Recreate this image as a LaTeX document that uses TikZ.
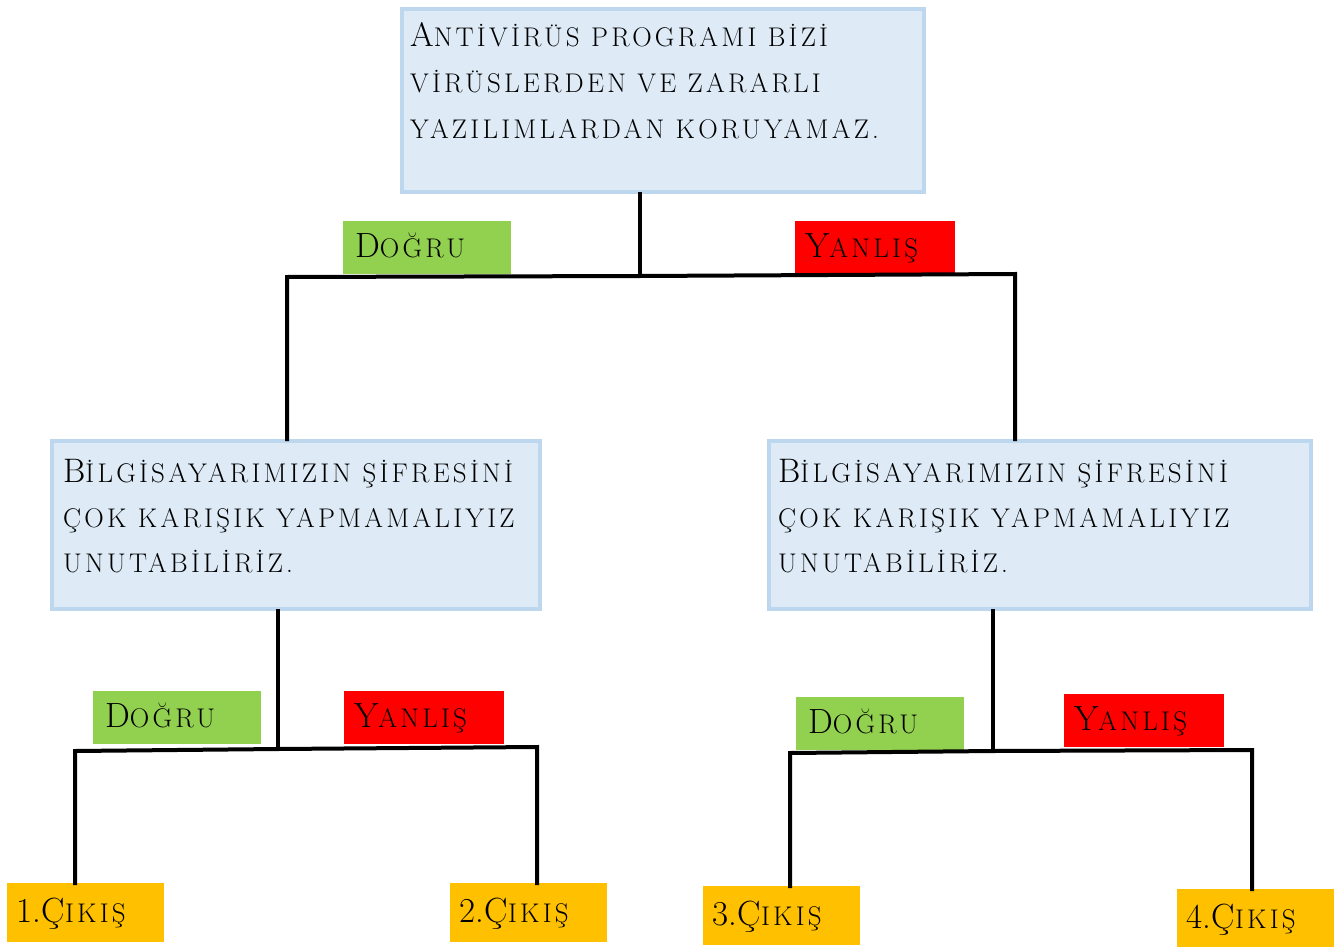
\documentclass[tikz,border=0pt]{standalone}
\usepackage{fontspec}
\setmainfont{Latin Modern Roman}[LetterSpace=12]
\definecolor{boxfill}{HTML}{DEEBF7}
\definecolor{boxline}{HTML}{BDD7EE}
\definecolor{okgreen}{HTML}{92D050}
\definecolor{nored}{HTML}{FF0000}
\definecolor{outorange}{HTML}{FFC000}
\newcommand\lc[1]{{\fontsize{27}{27}\selectfont #1}}
\newcommand\tight[1]{{\addfontfeature{LetterSpace=2}#1}}
\begin{document}
\begin{tikzpicture}[x=1pt,y=-1pt,
  qbox/.style={draw=boxline, line width=4pt, fill=boxfill, inner sep=0pt, anchor=north west},
  line/.style={font=\fontsize{34}{34}\selectfont, inner sep=0pt, anchor=base west},
  tag/.style={inner ysep=0pt, anchor=north west, align=left,
    font=\fontsize{35}{35}\selectfont, text height=19pt, text depth=0pt},
  yes/.style={tag, inner xsep=12pt, text width=144pt, fill=okgreen, minimum height=53pt},
  no/.style={tag, inner xsep=10pt, text width=140pt, fill=nored, minimum height=53pt},
  outb/.style={tag, inner xsep=9pt, text width=139pt, fill=outorange, minimum height=59pt},
  conn/.style={draw=black, line width=4pt, line cap=rect, line join=miter}]
\useasboundingbox (0,0) rectangle (1335,947);
\fill[white] (0,0) rectangle (1335,947);

% question boxes
\node[qbox, minimum width=522pt, minimum height=183pt] (q1) at (400,7) {};
\node[qbox, minimum width=488pt, minimum height=168pt] (q2) at (50,439) {};
\node[qbox, minimum width=542pt, minimum height=168pt] (q3) at (767,439) {};

\node[line] (q1a) at (410,47) {A\lc{NTİVİRÜS PROGRAMI BİZİ}};
\node[line] (q1b) at (410,93) {\lc{VİRÜSLERDEN VE ZARARLI}};
\node[line] (q1c) at (410,139) {\lc{YAZILIMLARDAN KORUYAMAZ.}};

\node[line] (q2a) at (63,482) {B\lc{İLGİSAYARIMIZIN ŞİFRESİNİ}};
\node[line] (q2b) at (63,527) {\lc{ÇOK KARIŞIK YAPMAMALIYIZ}};
\node[line] (q2c) at (63,572) {\lc{UNUTABİLİRİZ.}};

\node[line] (q3a) at (778,482) {B\lc{İLGİSAYARIMIZIN ŞİFRESİNİ}};
\node[line] (q3b) at (778,527) {\lc{ÇOK KARIŞIK YAPMAMALIYIZ}};
\node[line] (q3c) at (778,572) {\lc{UNUTABİLİRİZ.}};

% labels
\node[yes] (y1) at (343,221) {D\lc{OĞRU}};
\node[no]  (n1) at (795,221) {Y\lc{ANLIŞ}};
\node[yes] (y2) at (93,691) {D\lc{OĞRU}};
\node[no]  (n2) at (344,691) {Y\lc{ANLIŞ}};
\node[yes] (y3) at (796,697) {D\lc{OĞRU}};
\node[no]  (n3) at (1064,694) {Y\lc{ANLIŞ}};

% outputs
\node[outb] (o1) at (7,883) {\tight{1.}Ç\lc{IKIŞ}};
\node[outb] (o2) at (450,883) {\tight{2.}Ç\lc{IKIŞ}};
\node[outb] (o3) at (703,886) {\tight{3.}Ç\lc{IKIŞ}};
\node[outb] (o4) at (1177,889) {\tight{4.}Ç\lc{IKIŞ}};

% junctions
\coordinate (j1) at (640,276);
\coordinate (a1) at (287,277);
\coordinate (b1) at (1015,274);
\coordinate (j2) at (278,749);
\coordinate (a2) at (75,751);
\coordinate (b2) at (537,747);
\coordinate (j3) at (993,751);
\coordinate (a3) at (790,753);
\coordinate (b3) at (1252,750);

\draw[conn] (q1.south -| j1) -- (j1);
\draw[conn] (q2.north -| a1) -- (a1) -- (j1) -- (b1) -- (q3.north -| b1);
\draw[conn] (q2.south -| j2) -- (j2);
\draw[conn] (o1.north -| a2) -- (a2) -- (j2) -- (b2) -- (o2.north -| b2);
\draw[conn] (q3.south -| j3) -- (j3);
\draw[conn] (o3.north -| a3) -- (a3) -- (j3) -- (b3) -- (o4.north -| b3);
\end{tikzpicture}
\end{document}
